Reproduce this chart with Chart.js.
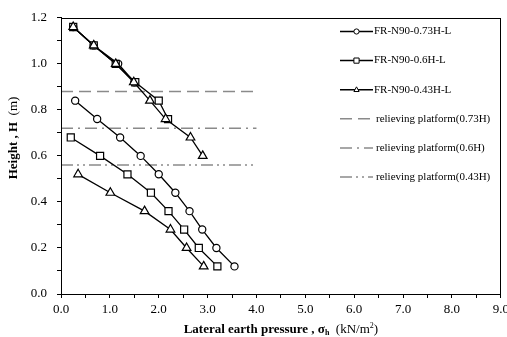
<!DOCTYPE html>
<html>
<head>
<meta charset="utf-8">
<script src="https://cdn.jsdelivr.net/npm/chart.js@4.4.1/dist/chart.umd.min.js"></script>
<style>
  html, body { margin: 0; padding: 0; background: #fff; }
  #wrap { width: 507px; height: 337px; }
</style>
</head>
<body>
<div id="wrap"><canvas id="chart"></canvas></div>
<script>
// measuring heights (m), top to toe
const heights = [1.16, 1.08, 1.00, 0.92, 0.84, 0.76, 0.68, 0.60, 0.52, 0.44, 0.36, 0.28, 0.20, 0.12];

const seriesNames = ["FR-N90-0.73H-L", "FR-N90-0.6H-L", "FR-N90-0.43H-L"];
// lateral pressure above the platform (from the top) and below it (down to the toe)
const upper073 = [0.25, 0.67, 1.17, 1.50];
const lower073 = [0.29, 0.74, 1.21, 1.63, 2.00, 2.34, 2.63, 2.89, 3.18, 3.55];
const upper06 = [0.25, 0.67, 1.12, 1.52, 2.00, 2.19];
const lower06 = [0.20, 0.80, 1.36, 1.84, 2.20, 2.52, 2.82, 3.20];
const upper043 = [0.25, 0.67, 1.12, 1.49, 1.82, 2.14, 2.65, 2.90];
const lower043 = [0.35, 1.01, 1.71, 2.24, 2.57, 2.92];

const platformNames = ["relieving platform(0.73H)", "relieving platform(0.6H)", "relieving platform(0.43H)"];
const platformHeights = [0.88, 0.72, 0.56];
const platformExtent = [0, 4.0];

const xRange = [0, 9];
const yRange = [0, 1.2];

const serif = "'Liberation Serif', 'Times New Roman', serif";
const grey = "#8a8a8a";

function profile(upper, lower) {
	const top = upper.map((p, i) => ({ x: p, y: heights[i] }));
	const start = heights.length - lower.length;
	const bottom = lower.map((p, i) => ({ x: p, y: heights[start + i] }));
	// null point breaks the line at the platform
	return top.concat([{ x: null, y: null }], bottom);
}

function seriesSet(label, data, pointStyle, radius, order) {
	return {
		label: label,
		data: data,
		borderColor: "#000",
		backgroundColor: "#fff",
		borderWidth: 1.3,
		pointStyle: pointStyle,
		pointRadius: radius,
		pointBorderWidth: 1.2,
		pointBackgroundColor: "#fff",
		pointBorderColor: "#000",
		order: order,
	};
}

function platformSet(label, h, dash) {
	return {
		label: label,
		data: platformExtent.map((x) => ({ x: x, y: h })),
		borderColor: grey,
		borderWidth: 1.5,
		borderDash: dash,
		pointRadius: 0,
		order: 10,
	};
}

const dashes = [[12, 6], [12, 5, 2, 5], [12, 4, 2, 4, 2, 4]];

const datasets = [
	seriesSet(seriesNames[0], profile(upper073, lower073), "circle", 3.6, 3),
	seriesSet(seriesNames[1], profile(upper06, lower06), "rect", 5, 2),
	seriesSet(seriesNames[2], profile(upper043, lower043), "triangle", 5, 1),
];
platformHeights.forEach((h, i) => datasets.push(platformSet(platformNames[i], h, dashes[i])));

function marker(ctx, style, x, y, r) {
	ctx.beginPath();
	if (style === "circle") {
		ctx.arc(x, y, r, 0, Math.PI * 2);
	} else if (style === "rect") {
		ctx.rect(x - r, y - r, 2 * r, 2 * r);
	} else {
		ctx.moveTo(x, y - r * 1.1);
		ctx.lineTo(x + r, y + r * 0.7);
		ctx.lineTo(x - r, y + r * 0.7);
		ctx.closePath();
	}
	ctx.fillStyle = "#fff";
	ctx.fill();
	ctx.stroke();
}

function drawRuns(ctx, runs, cx, cy) {
	let total = 0;
	runs.forEach((r) => {
		ctx.font = r.f;
		r.w = ctx.measureText(r.t).width;
		total += r.w;
	});
	let x = cx - total / 2;
	ctx.textAlign = "left";
	ctx.textBaseline = "alphabetic";
	runs.forEach((r) => {
		ctx.font = r.f;
		ctx.fillText(r.t, x, cy + (r.dy || 0));
		x += r.w;
	});
}

const extras = {
	id: "extras",
	afterDraw(chart) {
		const ctx = chart.ctx;
		const a = chart.chartArea;
		ctx.save();

		// plot frame
		ctx.strokeStyle = "#000";
		ctx.lineWidth = 1;
		ctx.strokeRect(Math.round(a.left) + 0.5, Math.round(a.top) + 0.5,
			Math.round(a.right - a.left) - 1, Math.round(a.bottom - a.top));

		// legend
		const lx = 340, ly = 31.5, step = 29.1;
		chart.data.datasets.forEach((ds, i) => {
			const y = ly + i * step;
			ctx.strokeStyle = ds.borderColor;
			ctx.lineWidth = ds.pointStyle ? 1.5 : 1.5;
			ctx.setLineDash(ds.borderDash || []);
			ctx.beginPath();
			ctx.moveTo(lx, y);
			ctx.lineTo(lx + 33, y);
			ctx.stroke();
			ctx.setLineDash([]);
			if (ds.pointStyle) {
				ctx.lineWidth = 1;
				marker(ctx, ds.pointStyle, lx + 16.5, y, 2.6);
			}
			ctx.fillStyle = "#000";
			ctx.font = "11px " + serif;
			ctx.textAlign = "left";
			ctx.textBaseline = "middle";
			ctx.fillText(ds.label, lx + (ds.pointStyle ? 34 : 36), y);
		});

		// axis titles
		ctx.fillStyle = "#000";
		drawRuns(ctx, [
			{ t: "Lateral earth pressure , ", f: "bold 13px " + serif },
			{ t: "σ", f: "bold 13px " + serif },
			{ t: "h", f: "bold 8px " + serif, dy: 2 },
			{ t: "  (kN/m", f: "13px " + serif },
			{ t: "2", f: "8px " + serif, dy: -5 },
			{ t: ")", f: "13px " + serif },
		], (a.left + a.right) / 2, 333);

		ctx.translate(17, 138);
		ctx.rotate(-Math.PI / 2);
		drawRuns(ctx, [
			{ t: "Height , H", f: "bold 13px " + serif },
			{ t: "  (m)", f: "13px " + serif },
		], 0, 0);
		ctx.restore();
	},
};

Chart.defaults.font.family = serif;
Chart.defaults.font.size = 13;
Chart.defaults.color = "#000";

const chart = new Chart(document.getElementById("chart").getContext("2d"), {
	type: "line",
	data: { datasets: datasets },
	options: {
		responsive: true,
		maintainAspectRatio: false,
		animation: false,
		spanGaps: false,
		layout: { padding: { top: 16, right: 5, left: 0, bottom: 0 } },
		plugins: {
			legend: { display: false },
			tooltip: { enabled: false },
		},
		scales: {
			x: {
				type: "linear",
				min: xRange[0],
				max: xRange[1],
				ticks: {
					stepSize: 0.5,
					padding: 4,
					maxRotation: 0,
					autoSkip: false,
					callback: (v) => (Math.round(v * 2) % 2 === 0 ? v.toFixed(1) : ""),
				},
				grid: { display: true, drawOnChartArea: false, tickLength: 4, color: "#000" },
				border: { color: "#000", width: 1 },
				afterFit: (s) => {
					s.height = 43;
					s.paddingRight = 0;
				},
			},
			y: {
				type: "linear",
				min: yRange[0],
				max: yRange[1],
				ticks: {
					stepSize: 0.1,
					padding: 10,
					autoSkip: false,
					callback: (v) => (Math.round(v * 10) % 2 === 0 ? v.toFixed(1) : ""),
				},
				grid: { display: true, drawOnChartArea: false, tickLength: 4, color: "#000" },
				border: { color: "#000", width: 1 },
				afterFit: (s) => {
					s.width = 61;
				},
			},
		},
	},
	plugins: [extras],
});
</script>
</body>
</html>
